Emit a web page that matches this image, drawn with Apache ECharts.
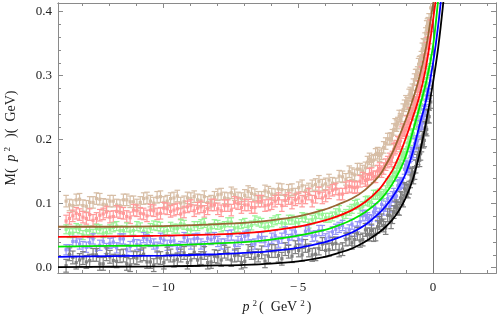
<!DOCTYPE html>
<html><head><meta charset="utf-8">
<script src="https://cdn.jsdelivr.net/npm/echarts@6/dist/echarts.min.js"></script>
<style>html,body{margin:0;padding:0;background:#fff}#c{width:497px;height:327px}</style>
</head><body><div id="c"></div>
<script>
// ---- data ----
const X_MIN = -13.9, X_MAX = 2.34, Y_MIN = -0.0083, Y_MAX = 0.4136;
const xMajorTicks = [-10, -5, 0];
const xMinorTicks = [-13,-12,-11,-10,-9,-8,-7,-6,-5,-4,-3,-2,-1,0,1,2];
const yMajorTicks = [0, 0.1, 0.2, 0.3, 0.4];
const yMinorTicks = [0,0.02,0.04,0.06,0.08,0.1,0.12,0.14,0.16,0.18,0.2,0.22,0.24,0.26,0.28,0.3,0.32,0.34,0.36,0.38,0.4];

// fit curves
const curveP2 = [-13.9,-12,-10,-8,-7,-6,-5,-4,-3.5,-3,-2.5,-2,-1.75,-1.5,-1.25,-1,-0.75,-0.5,-0.25,0,0.2,0.4];
const curveBlack = [0.001,0.0015,0.002,0.0035,0.0045,0.0065,0.010,0.017,0.023,0.030,0.041,0.055,0.064,0.075,0.090,0.110,0.137,0.177,0.228,0.288,0.345,0.42];
const curveBlue  = [0.017,0.018,0.019,0.021,0.023,0.026,0.031,0.040,0.047,0.055,0.067,0.085,0.096,0.110,0.127,0.148,0.180,0.222,0.262,0.318,0.38,0.46];
const curveGreen = [0.033,0.034,0.035,0.038,0.040,0.044,0.050,0.059,0.066,0.075,0.087,0.104,0.116,0.131,0.150,0.175,0.212,0.250,0.290,0.345,0.42,0.50];
const curveRed   = [0.048,0.049,0.050,0.052,0.054,0.058,0.064,0.074,0.081,0.090,0.103,0.122,0.136,0.152,0.175,0.203,0.234,0.268,0.315,0.385,0.45,0.52];
const curveBrown = [0.064,0.064,0.065,0.068,0.070,0.074,0.080,0.091,0.099,0.108,0.122,0.143,0.160,0.180,0.205,0.232,0.262,0.298,0.345,0.41,0.46,0.52];

// lattice data points, momentum set A
const dataP2A = [-13.6,-13.35,-13.1,-12.85,-12.6,-12.35,-12.1,-11.85,-11.6,-11.35,-11.1,-10.85,-10.6,-10.35,-10.1,-9.85,-9.6,-9.35,-9.1,-8.85,-8.6,-8.35,-8.1,-7.85,-7.6,-7.35,-7.1,-6.85,-6.6,-6.35,-6.1,-5.85,-5.6,-5.35,-5.1,-4.85,-4.6,-4.35,-4.1,-3.85,-3.6,-3.35,-3.1,-2.9,-2.7,-2.5,-2.35,-2.2,-2.05,-1.9,-1.75,-1.6,-1.5,-1.4,-1.3,-1.2,-1.1,-1.0,-0.92,-0.84,-0.76,-0.68,-0.6,-0.53,-0.46,-0.39,-0.32,-0.26,-0.2,-0.14,-0.08];
const tanA = [0.104,0.097,0.107,0.096,0.102,0.107,0.098,0.104,0.097,0.106,0.103,0.102,0.109,0.101,0.111,0.104,0.109,0.101,0.109,0.111,0.105,0.102,0.110,0.115,0.108,0.114,0.108,0.119,0.114,0.110,0.118,0.114,0.122,0.121,0.115,0.128,0.123,0.130,0.129,0.137,0.131,0.142,0.150,0.145,0.154,0.156,0.170,0.168,0.179,0.178,0.194,0.201,0.207,0.224,0.226,0.232,0.247,0.260,0.256,0.273,0.278,0.294,0.301,0.318,0.322,0.342,0.348,0.366,0.380,0.388,0.406];
const pinkA = [0.073,0.081,0.083,0.077,0.074,0.082,0.087,0.080,0.086,0.080,0.090,0.085,0.081,0.089,0.085,0.092,0.090,0.084,0.095,0.089,0.095,0.092,0.098,0.089,0.097,0.102,0.094,0.098,0.094,0.104,0.098,0.104,0.097,0.108,0.106,0.104,0.115,0.110,0.109,0.117,0.123,0.115,0.127,0.125,0.135,0.136,0.146,0.142,0.151,0.150,0.161,0.170,0.173,0.187,0.196,0.198,0.216,0.215,0.229,0.241,0.241,0.258,0.262,0.283,0.292,0.303,0.323,0.326,0.351,0.359,0.378];
const lightGreenA = [0.060,0.054,0.060,0.058,0.053,0.060,0.055,0.063,0.058,0.063,0.058,0.063,0.055,0.066,0.064,0.058,0.061,0.069,0.060,0.065,0.068,0.059,0.068,0.063,0.071,0.062,0.068,0.064,0.074,0.070,0.064,0.074,0.070,0.075,0.071,0.079,0.069,0.078,0.083,0.078,0.085,0.081,0.089,0.098,0.092,0.104,0.103,0.114,0.114,0.112,0.121,0.135,0.142,0.142,0.158,0.163,0.179,0.178,0.196,0.198,0.209,0.223,0.225,0.243,0.248,0.269,0.277,0.282,0.304,0.307,0.326];
const lightBlueA = [0.028,0.041,0.037,0.032,0.045,0.035,0.030,0.040,0.045,0.028,0.042,0.035,0.044,0.037,0.046,0.035,0.042,0.033,0.042,0.045,0.037,0.046,0.047,0.037,0.050,0.035,0.044,0.051,0.037,0.047,0.035,0.050,0.046,0.044,0.056,0.043,0.059,0.050,0.058,0.048,0.060,0.066,0.059,0.057,0.072,0.082,0.075,0.087,0.080,0.099,0.096,0.095,0.111,0.110,0.128,0.133,0.132,0.160,0.157,0.174,0.177,0.194,0.192,0.212,0.229,0.226,0.245,0.247,0.272,0.272,0.292];
const grayA = [0.003,0.016,0.012,0.009,0.020,0.006,0.021,0.011,0.018,0.006,0.016,0.019,0.009,0.004,0.015,0.022,0.011,0.019,0.008,0.024,0.015,0.008,0.018,0.012,0.022,0.019,0.008,0.026,0.015,0.024,0.018,0.026,0.014,0.025,0.032,0.020,0.027,0.021,0.037,0.028,0.038,0.029,0.045,0.044,0.042,0.059,0.052,0.051,0.064,0.074,0.062,0.082,0.079,0.094,0.093,0.109,0.105,0.121,0.119,0.135,0.147,0.148,0.167,0.177,0.178,0.203,0.199,0.219,0.237,0.236,0.259];

// lattice data points, momentum set B
const dataP2B = [-13.475,-13.225,-12.975,-12.725,-12.475,-12.225,-11.975,-11.725,-11.475,-11.225,-10.975,-10.725,-10.475,-10.225,-9.975,-9.725,-9.475,-9.225,-8.975,-8.725,-8.475,-8.225,-7.975,-7.725,-7.475,-7.225,-6.975,-6.725,-6.475,-6.225,-5.975,-5.725,-5.475,-5.225,-4.975,-4.725,-4.475,-4.225,-3.975,-3.725,-3.475,-3.225,-3.0,-2.8,-2.6,-2.425,-2.275,-2.125,-1.975,-1.825,-1.675,-1.55,-1.45,-1.35,-1.25,-1.15,-1.05,-0.96,-0.88,-0.8,-0.72,-0.64,-0.565,-0.495,-0.425,-0.355,-0.29,-0.23,-0.17];
const tanB = [0.098,0.106,0.097,0.102,0.108,0.099,0.104,0.098,0.106,0.103,0.098,0.108,0.104,0.110,0.102,0.108,0.112,0.103,0.108,0.106,0.111,0.104,0.114,0.109,0.117,0.109,0.113,0.116,0.110,0.120,0.115,0.123,0.113,0.122,0.125,0.120,0.128,0.135,0.131,0.132,0.143,0.138,0.147,0.154,0.151,0.165,0.166,0.177,0.175,0.188,0.201,0.202,0.216,0.222,0.237,0.237,0.253,0.257,0.270,0.269,0.286,0.301,0.305,0.321,0.329,0.349,0.358,0.377,0.382];
const pinkB = [0.077,0.085,0.079,0.083,0.077,0.084,0.079,0.088,0.085,0.078,0.089,0.084,0.090,0.084,0.093,0.088,0.092,0.087,0.097,0.093,0.088,0.098,0.092,0.097,0.090,0.100,0.098,0.094,0.104,0.097,0.100,0.108,0.105,0.101,0.109,0.109,0.104,0.117,0.112,0.121,0.115,0.125,0.126,0.126,0.140,0.138,0.147,0.142,0.155,0.155,0.165,0.167,0.185,0.190,0.194,0.211,0.214,0.228,0.226,0.241,0.254,0.257,0.276,0.283,0.305,0.313,0.320,0.343,0.351];
const lightGreenB = [0.054,0.062,0.051,0.058,0.061,0.054,0.060,0.065,0.058,0.057,0.065,0.057,0.062,0.065,0.056,0.064,0.061,0.067,0.059,0.065,0.070,0.062,0.067,0.065,0.071,0.063,0.070,0.066,0.072,0.063,0.071,0.076,0.069,0.075,0.070,0.078,0.075,0.084,0.078,0.080,0.090,0.084,0.092,0.100,0.096,0.105,0.102,0.114,0.116,0.115,0.132,0.135,0.149,0.148,0.162,0.175,0.174,0.188,0.194,0.208,0.210,0.230,0.235,0.253,0.255,0.270,0.284,0.288,0.308];
const lightBlueB = [0.028,0.041,0.033,0.039,0.027,0.041,0.038,0.031,0.045,0.033,0.036,0.047,0.041,0.032,0.043,0.041,0.030,0.047,0.037,0.046,0.033,0.044,0.041,0.037,0.051,0.041,0.049,0.036,0.048,0.041,0.046,0.040,0.056,0.051,0.044,0.057,0.049,0.058,0.045,0.056,0.063,0.054,0.068,0.064,0.081,0.078,0.074,0.092,0.085,0.090,0.108,0.104,0.116,0.112,0.130,0.132,0.154,0.158,0.156,0.180,0.180,0.198,0.198,0.222,0.224,0.240,0.244,0.268,0.271];
const grayB = [0.021,0.008,0.015,0.011,0.020,0.006,0.017,0.010,0.019,0.004,0.015,0.021,0.009,0.016,0.008,0.019,0.013,0.023,0.012,0.012,0.023,0.009,0.017,0.025,0.012,0.020,0.010,0.023,0.019,0.010,0.026,0.019,0.029,0.018,0.027,0.034,0.020,0.030,0.027,0.037,0.027,0.044,0.039,0.053,0.044,0.052,0.058,0.052,0.070,0.066,0.082,0.071,0.087,0.096,0.092,0.108,0.123,0.120,0.125,0.145,0.141,0.158,0.171,0.168,0.191,0.197,0.218,0.216,0.237];

const errTan = 0.009, errPink = 0.009, errLightGreen = 0.007, errLightBlue = 0.008, errGray = 0.010;

// ---- chart ----
const serif = '"Liberation Serif","DejaVu Serif",serif';
const frameColor = '#8a8a8a';
const txt = '#222';
const chart = echarts.init(document.getElementById('c'), null, {renderer:'canvas'});

function pairs(xs, ys){ return xs.map((x,i)=>[x, ys[i]]); }
function triples(xs, ys, e){ return xs.map((x,i)=>[x, ys[i], e]); }

function errSeries(name, ya, yb, e, color){
  return {
    name, type:'custom', clip:true, z:2,
    data: triples(dataP2A, ya, e).concat(triples(dataP2B, yb, e)),
    renderItem: function(params, api){
      const x = api.value(0), y = api.value(1), er = api.value(2);
      const c = api.coord([x, y]);
      const t = api.coord([x, y + er]);
      const b = api.coord([x, y - er]);
      const w = 2.8;
      const st = {stroke: color, lineWidth: 1.2};
      return {type:'group', children:[
        {type:'line', shape:{x1:c[0], y1:t[1], x2:c[0], y2:b[1]}, style:st},
        {type:'line', shape:{x1:c[0]-w, y1:t[1], x2:c[0]+w, y2:t[1]}, style:st},
        {type:'line', shape:{x1:c[0]-w, y1:b[1], x2:c[0]+w, y2:b[1]}, style:st},
        {type:'rect', shape:{x:c[0]-1.6, y:c[1]-1.6, width:3.2, height:3.2}, style:{fill:color}}
      ]};
    }
  };
}
function curve(name, ys, color){
  return {name, type:'line', data: pairs(curveP2, ys), showSymbol:false, smooth:0.35,
    lineStyle:{color, width:1.8}, itemStyle:{color}, z:5, clip:true};
}

function xAx(pos, ticks, len, labels){
  return {type:'value', position:pos, min:X_MIN, max:X_MAX,
    axisLine:{show:true, onZero:false, lineStyle:{color:frameColor, width:1}},
    splitLine:{show:false},
    axisTick:{show:true, inside:true, length:len, customValues:ticks, lineStyle:{color:frameColor}},
    axisLabel:{show:labels, customValues:ticks, margin:8, color:txt, fontFamily:serif, fontSize:13,
      formatter: v => v < 0 ? '\u2212\u2009' + Math.abs(v) : String(v)}
  };
}
function yAx(pos, ticks, len, labels){
  return {type:'value', position:pos, min:Y_MIN, max:Y_MAX,
    axisLine:{show:true, onZero:false, lineStyle:{color:frameColor, width:1}},
    splitLine:{show:false},
    axisTick:{show:true, inside:true, length:len, customValues:ticks, lineStyle:{color:frameColor}},
    axisLabel:{show:labels, customValues:ticks, margin:6, color:txt, fontFamily:serif, fontSize:13,
      formatter: v => v.toFixed(1)}
  };
}
const richName = {
  i:{fontFamily:serif, fontStyle:'italic', fontSize:14, color:txt},
  s:{fontFamily:serif, fontSize:9, color:txt, padding:[0,2,8,3]},
  n:{fontFamily:serif, fontSize:14, color:txt}
};

const xAxes = [xAx('bottom', xMajorTicks, 5, true), xAx('bottom', xMinorTicks, 3, false),
               xAx('top', xMajorTicks, 5, false), xAx('top', xMinorTicks, 3, false)];
Object.assign(xAxes[0], {name:'{i|p}{s|2}{n|(\u2002GeV}{s|2}{n|)}', nameLocation:'middle', nameGap:23,
  nameTextStyle:{fontFamily:serif, fontSize:14, color:txt, rich:richName}});
const yAxes = [yAx('left', yMajorTicks, 5, true), yAx('left', yMinorTicks, 3, false),
               yAx('right', yMajorTicks, 5, false), yAx('right', yMinorTicks, 3, false)];
Object.assign(yAxes[0], {name:'{n|M(\u2002}{i|p}{s|2}{n|\u2002)(\u2002GeV)}', nameLocation:'middle', nameRotate:90, nameGap:38,
  nameTextStyle:{fontFamily:serif, fontSize:14, color:txt, rich:richName}});

const series = [
  errSeries('tan', tanA, tanB, errTan, '#d7bea6'),
  errSeries('pink', pinkA, pinkB, errPink, '#ff9999'),
  errSeries('lightgreen', lightGreenA, lightGreenB, errLightGreen, '#96f596'),
  errSeries('lightblue', lightBlueA, lightBlueB, errLightBlue, '#9696f7'),
  errSeries('gray', grayA, grayB, errGray, '#808080'),
  curve('black', curveBlack, '#000000'),
  curve('blue', curveBlue, '#0000ff'),
  curve('green', curveGreen, '#00e600'),
  curve('red', curveRed, '#ff0000'),
  curve('brown', curveBrown, '#996633')
];
series[5].markLine = {silent:true, symbol:'none', animation:false, label:{show:false},
  lineStyle:{color:'#777', width:1, type:'solid'}, data:[{xAxis:0}]};

chart.setOption({
  animation:false,
  grid:{left:58, right:1, top:3, bottom:54, containLabel:false, outerBoundsMode:'none'},
  xAxis:xAxes, yAxis:yAxes, series
});
</script></body></html>
